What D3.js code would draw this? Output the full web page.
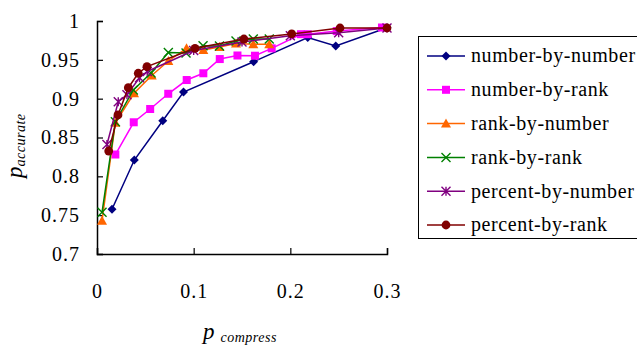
<!DOCTYPE html>
<html><head><meta charset="utf-8">
<script src="https://cdn.jsdelivr.net/npm/d3@7"></script>
<style>body{margin:0;background:#fff;}svg{display:block;}</style>
</head><body>
<svg id="c" width="637" height="345"></svg>
<script>
// ---- data ----
const seriesNames = ["number-by-number","number-by-rank","rank-by-number","rank-by-rank","percent-by-number","percent-by-rank"];
const nbnX = [0.0155,0.0386,0.068,0.0895,0.162,0.218,0.247,0.300];
const nbnY = [0.7576,0.821,0.8716,0.9086,0.9476,0.9788,0.9678,0.9914];
const nbrX = [0.019,0.038,0.055,0.0737,0.0928,0.110,0.127,0.1453,0.1634,0.1807,0.211,0.218,0.248,0.2948];
const nbrY = [0.8281,0.8696,0.8867,0.9063,0.924,0.9327,0.951,0.9556,0.9553,0.9648,0.983,0.983,0.987,0.9916];
const rbnX = [0.0052,0.019,0.0383,0.0566,0.0738,0.0926,0.110,0.1267,0.1438,0.1617,0.1782];
const rbnY = [0.7429,0.869,0.9069,0.9298,0.9485,0.9648,0.9627,0.9665,0.971,0.970,0.970];
const rbrX = [0.0052,0.019,0.0376,0.0559,0.0738,0.0921,0.1097,0.1267,0.1438,0.1617,0.1782];
const rbrY = [0.7537,0.8703,0.9112,0.933,0.9594,0.9588,0.9682,0.9678,0.9742,0.9768,0.9768];
const pbnX = [0.0103,0.022,0.031,0.044,0.052,0.100,0.150,0.200,0.250,0.300];
const pbnY = [0.841,0.896,0.905,0.927,0.935,0.962,0.973,0.981,0.985,0.991];
const pbrX = [0.0121,0.0217,0.0324,0.0427,0.0517,0.1014,0.152,0.2014,0.2514,0.300];
const pbrY = [0.8326,0.879,0.9141,0.9327,0.9412,0.9648,0.9768,0.9833,0.991,0.991];
const xTicks = [0,0.1,0.2,0.3];
const xTickLabels = ["0","0.1","0.2","0.3"];
const yTicks = [0.7,0.75,0.8,0.85,0.9,0.95,1];
const yTickLabels = ["0.7","0.75","0.8","0.85","0.9","0.95","1"];

const seriesX = [nbnX,nbrX,rbnX,rbrX,pbnX,pbrX];
const seriesY = [nbnY,nbrY,rbnY,rbrY,pbnY,pbrY];
const colors = ["#000080","#FF00FF","#FF6600","#008000","#800080","#800000"];
const shapes = ["diamond","square","triangle","x","star","circle"];

const svg = d3.select("#c");
const font = "'Liberation Serif','Times New Roman',serif";
const x = d3.scaleLinear().domain([0,0.3]).range([97,387]);
const y = d3.scaleLinear().domain([0.7,1]).range([254,21]);

// axes
const gx = svg.append("g").attr("transform","translate(0,254)")
  .call(d3.axisBottom(x).tickValues(xTicks).tickSize(-6).tickFormat((d,i)=>xTickLabels[i]).tickPadding(30));
const gy = svg.append("g").attr("transform","translate(97,0)")
  .call(d3.axisLeft(y).tickValues(yTicks).tickSize(-6).tickFormat((d,i)=>yTickLabels[i]).tickPadding(17));
[gx,gy].forEach(g=>{
  g.select(".domain").attr("stroke","#000").attr("stroke-width",1.5);
  g.selectAll(".tick line").attr("stroke","#000").attr("stroke-width",1.2);
  g.selectAll("text").attr("font-family",font).attr("font-size",20).attr("fill","#000").attr("letter-spacing","1px");
});

function marker(g, shape, cx, cy, color){
  const s = 4.5;
  if(shape==="diamond"){
    g.append("path").attr("d",`M${cx},${cy-s}L${cx+s},${cy}L${cx},${cy+s}L${cx-s},${cy}Z`).attr("fill",color);
  } else if(shape==="square"){
    g.append("rect").attr("x",cx-4).attr("y",cy-4).attr("width",8).attr("height",8).attr("fill",color);
  } else if(shape==="triangle"){
    g.append("path").attr("d",`M${cx},${cy-5}L${cx+5},${cy+4}L${cx-5},${cy+4}Z`).attr("fill",color);
  } else if(shape==="x"){
    g.append("path").attr("d",`M${cx-s},${cy-s}L${cx+s},${cy+s}M${cx+s},${cy-s}L${cx-s},${cy+s}`).attr("stroke",color).attr("stroke-width",1.4).attr("fill","none");
  } else if(shape==="star"){
    g.append("path").attr("d",`M${cx-s},${cy-s}L${cx+s},${cy+s}M${cx+s},${cy-s}L${cx-s},${cy+s}M${cx},${cy-s}L${cx},${cy+s}`).attr("stroke",color).attr("stroke-width",1.4).attr("fill","none");
  } else if(shape==="circle"){
    g.append("circle").attr("cx",cx).attr("cy",cy).attr("r",4.4).attr("fill",color);
  }
}

const line = d3.line().x(d=>x(d[0])).y(d=>y(d[1]));
seriesNames.forEach((name,i)=>{
  const pts = seriesX[i].map((v,j)=>[v,seriesY[i][j]]);
  const g = svg.append("g");
  g.append("path").attr("d",line(pts)).attr("fill","none").attr("stroke",colors[i]).attr("stroke-width",1.5);
  pts.forEach(p=>marker(g,shapes[i],x(p[0]),y(p[1]),colors[i]));
});

// legend
const lg = svg.append("g");
lg.append("rect").attr("x",418.5).attr("y",36.5).attr("width",240).attr("height",202).attr("fill","none").attr("stroke","#000").attr("stroke-width",1);
const rowY = d3.scaleLinear().domain([0,5]).range([56,225]);
seriesNames.forEach((name,i)=>{
  const yy = rowY(i);
  lg.append("line").attr("x1",427).attr("x2",465).attr("y1",yy).attr("y2",yy).attr("stroke",colors[i]).attr("stroke-width",1.5);
  marker(lg,shapes[i],446,yy,colors[i]);
  lg.append("text").attr("x",471).attr("y",yy).attr("dy","0.32em").text(name)
    .attr("font-family",font).attr("font-size",20).attr("letter-spacing","0.6px").attr("fill","#000");
});

// axis titles
const xt = svg.append("text").attr("x",203).attr("y",339).attr("font-family",font).attr("font-style","italic").attr("fill","#000");
xt.append("tspan").attr("font-size",23).text("p");
xt.append("tspan").attr("font-size",14).attr("dx",6).attr("dy",3).attr("letter-spacing","0.5px").text("compress");
const yt = svg.append("text").attr("transform","translate(22,178) rotate(-90)").attr("font-family",font).attr("font-style","italic").attr("fill","#000");
yt.append("tspan").attr("font-size",23).text("p");
yt.append("tspan").attr("font-size",14).attr("dy",3).attr("letter-spacing","0.5px").text("accurate");
</script>
</body></html>
